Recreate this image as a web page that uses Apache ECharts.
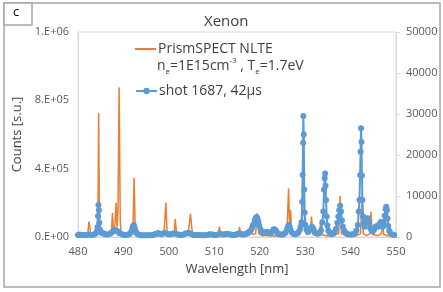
<!DOCTYPE html>
<html><head><meta charset="utf-8">
<script src="https://cdn.jsdelivr.net/npm/echarts@6/dist/echarts.min.js"></script>
<style>html,body{margin:0;padding:0;background:#fff}#c{width:443px;height:292px}</style>
</head><body><div id="c"></div>
<script>
// PrismSPECT NLTE spectrum [wavelength nm, counts] (left axis)
const prismSpect = [
[480.0,5000],[481.0,4000],[482.0,6000],[482.2,30000],[482.4,90000],[482.6,60000],[482.8,8000],[483.5,5000],
[484.2,8000],[484.4,150000],[484.55,726000],[484.7,180000],[484.85,40000],[485.0,10000],[485.5,8000],[486.5,5000],
[487.3,10000],[487.6,140000],[487.8,30000],[488.1,60000],[488.4,200000],[488.6,60000],[488.8,150000],[489.05,877000],
[489.3,100000],[489.5,15000],[490.5,6000],[491.5,8000],[492.1,40000],[492.35,347000],[492.6,40000],[492.9,8000],
[494.0,5000],[496.0,5000],[497.3,8000],[497.6,40000],[497.9,8000],[498.9,10000],[499.35,200000],[499.6,30000],
[500.5,8000],[501.2,30000],[501.4,105000],[501.7,20000],[502.5,6000],[504.3,30000],[504.75,135000],[505.2,15000],
[506.0,6000],[508.0,5000],[510.8,15000],[511.15,60000],[511.4,10000],[512.4,8000],[512.65,31000],[512.9,8000],
[514.0,5000],[515.3,10000],[515.55,60000],[515.8,8000],[517.7,10000],[518.05,80000],[518.3,15000],[519.1,20000],
[519.45,138000],[519.8,20000],[520.5,8000],[521.5,10000],[522.3,6000],[523.5,8000],[525.0,6000],[526.0,20000],
[526.35,285000],[526.6,60000],[526.8,158000],[527.0,15000],[528.0,8000],[529.3,40000],[529.65,396000],[529.9,60000],
[530.3,15000],[531.1,20000],[531.4,119000],[531.7,15000],[532.5,8000],[533.2,20000],[533.4,90000],[533.6,15000],
[535.0,6000],[537.4,20000],[537.7,240000],[538.0,20000],[539.0,8000],[541.0,6000],[542.2,20000],[542.5,240000],
[542.8,20000],[543.5,8000],[544.3,20000],[544.5,148000],[544.8,15000],[546.0,8000],[546.8,20000],[547.0,90000],
[547.3,15000],[548.5,5000]
];
// shot 1687, 42µs measured spectrum [wavelength nm, counts] (right axis)
const shot1687 = [
[480.0,500],[480.4,600],[480.8,500],[481.2,400],[481.6,500],[482.0,400],[482.4,600],[482.8,500],[483.2,500],[483.6,700],
[484.0,1000],[484.2,1500],[484.3,2400],[484.4,5100],[484.5,7800],[484.6,6500],[484.7,3500],[484.8,1800],[485.0,1200],
[485.3,1000],[485.6,900],[486.0,700],[486.4,600],[486.8,700],[487.2,900],[487.6,1300],[487.9,1600],[488.2,1700],
[488.5,1600],[488.8,1300],[489.1,1000],[489.4,800],[489.8,600],[490.2,500],[490.6,500],[491.0,600],[491.4,800],
[491.7,1200],[491.9,1900],[492.1,2600],[492.3,2900],[492.5,2200],[492.7,1400],[492.9,900],[493.2,700],[493.6,500],
[494.0,400],[494.4,400],[494.8,400],[495.2,400],[495.6,400],[496.0,450],[496.4,500],[496.8,600],[497.2,800],[497.6,900],
[498.0,800],[498.4,700],[498.8,900],[499.2,1000],[499.6,800],[500.0,700],[500.4,700],[500.8,800],[501.2,900],[501.6,800],
[502.0,600],[502.4,500],[502.8,500],[503.2,600],[503.6,800],[504.0,1000],[504.4,1000],[504.8,800],[505.2,600],[505.6,500],
[506.0,500],[506.4,500],[506.8,500],[507.2,400],[507.6,400],[508.0,400],[508.4,500],[508.8,600],[509.2,700],[509.6,600],
[510.0,500],[510.4,500],[510.8,600],[511.2,800],[511.6,700],[512.0,600],[512.4,700],[512.8,800],[513.2,700],[513.6,600],
[514.0,500],[514.4,500],[514.8,600],[515.2,800],[515.6,900],[516.0,700],[516.4,600],[516.8,700],[517.2,900],[517.6,1200],
[518.0,1600],[518.3,2200],[518.6,3000],[518.9,4000],[519.1,4600],[519.3,4900],[519.5,4600],[519.7,3800],[519.9,2800],
[520.2,1800],[520.5,1200],[520.8,1000],[521.1,1100],[521.4,1300],[521.7,1200],[522.0,900],[522.4,900],[522.7,1300],
[523.0,1800],[523.3,1900],[523.6,1500],[523.9,1000],[524.2,700],[524.6,600],[525.0,600],[525.4,800],[525.7,1100],
[526.0,1800],[526.2,2500],[526.4,2900],[526.6,2500],[526.8,1700],[527.1,1100],[527.4,800],[527.8,700],[528.2,800],
[528.5,1100],[528.8,1700],[529.0,2500],[529.2,3600],[529.35,8600],[529.45,15100],[529.55,23000],[529.6,29500],
[529.7,25000],[529.8,11600],[529.9,6000],[530.05,3000],[530.3,1700],[530.6,1200],[530.9,1500],[531.2,2200],[531.5,2500],
[531.8,2000],[532.1,1300],[532.4,900],[532.8,800],[533.2,1000],[533.5,1600],[533.8,3600],[534.0,6200],[534.15,11500],
[534.3,14300],[534.4,15500],[534.5,12500],[534.6,9000],[534.75,5000],[534.9,2800],[535.1,1600],[535.4,1000],[535.8,700],
[536.2,800],[536.5,1200],[536.8,2000],[537.1,3500],[537.3,5000],[537.5,6500],[537.7,7600],[537.9,6200],[538.1,4000],
[538.3,2500],[538.6,1500],[539.0,900],[539.4,700],[539.8,600],[540.2,600],[540.6,700],[541.0,1000],[541.3,1600],
[541.6,2900],[541.8,6200],[541.95,9000],[542.1,15100],[542.2,20800],[542.3,26500],[542.4,23200],[542.5,15000],
[542.6,9000],[542.75,5000],[542.9,3200],[543.1,2500],[543.4,3500],[543.6,4500],[543.8,4600],[544.0,3500],[544.3,2200],
[544.6,1600],[544.9,1400],[545.2,1800],[545.5,2500],[545.8,2700],[546.1,2500],[546.4,3200],[546.7,3700],[546.9,3000],
[547.1,2500],[547.3,3500],[547.5,5200],[547.7,6800],[547.85,7400],[548.0,6500],[548.15,4500],[548.3,2700],[548.5,1500],
[548.8,900],[549.1,600],[549.6,500]
];
const leftTickLabels = ['0.E+00','4.E+05','8.E+05','1.E+06'];
const rightTickLabels = ['0','10000','20000','30000','40000','50000'];
const xTickLabels = ['480','490','500','510','520','530','540','550'];
const seriesNames = ['PrismSPECT NLTE','shot 1687, 42µs'];

const chart = echarts.init(document.getElementById('c'), null, {renderer:'canvas'});
const FONT = 'Open Sans';
const lab = {color:'#595959', fontSize:11, fontFamily:FONT};
const legText = {fontFamily:FONT, fontSize:14, color:'#404040', padding:[0,0,0,-3]};
chart.setOption({
  animation:false,
  title:{text:'Xenon', top:9, left:199, textStyle:{fontFamily:FONT, fontSize:15, fontWeight:'normal', color:'#404040'}},
  grid:{left:78, right:47, top:32, bottom:55, show:true, borderColor:'#d9d9d9', borderWidth:1},
  legend:[
    {orient:'vertical', left:135, top:42, padding:0, itemWidth:21, itemHeight:2, icon:'rect',
     textStyle:legText, data:[seriesNames[0]]},
    {orient:'vertical', left:135, top:84, padding:0, itemWidth:21, itemHeight:8,
     textStyle:legText, data:[seriesNames[1]]}
  ],
  xAxis:{type:'value', min:480, max:550, interval:10,
    name:'Wavelength [nm]', nameLocation:'middle', nameGap:26,
    nameTextStyle:{fontFamily:FONT, fontSize:13, color:'#404040'},
    axisLine:{lineStyle:{color:'#d9d9d9'}}, axisTick:{show:false}, splitLine:{show:false},
    axisLabel:Object.assign({margin:9, formatter:v=>xTickLabels[Math.round((v-480)/10)]}, lab)},
  yAxis:[
    {type:'value', min:0, max:1200000, interval:400000,
     name:'Counts [s.u.]', nameLocation:'middle', nameGap:50, nameRotate:90,
     nameTextStyle:{fontFamily:FONT, fontSize:13, color:'#404040'},
     axisLine:{show:true, lineStyle:{color:'#d9d9d9'}}, axisTick:{show:false}, splitLine:{show:false},
     axisLabel:Object.assign({margin:9, formatter:v=>leftTickLabels[Math.round(v/400000)]}, lab)},
    {type:'value', min:0, max:50000, interval:10000, position:'right',
     axisLine:{show:true, lineStyle:{color:'#d9d9d9'}}, axisTick:{show:true, length:4, lineStyle:{color:'#d9d9d9'}},
     splitLine:{show:false},
     axisLabel:Object.assign({margin:10, formatter:v=>rightTickLabels[Math.round(v/10000)]}, lab)}
  ],
  series:[
    {name:seriesNames[0], type:'line', yAxisIndex:0, data:prismSpect, showSymbol:false, symbol:'none',
     lineStyle:{color:'#ed7d31', width:1.5}, itemStyle:{color:'#ed7d31'}, z:2},
    {name:seriesNames[1], type:'line', yAxisIndex:1, data:shot1687, symbol:'circle', symbolSize:6, showSymbol:true,
     lineStyle:{color:'#5b9bd5', width:2}, itemStyle:{color:'#5b9bd5'}, z:3}
  ],
  graphic:[
    {type:'rect', shape:{x:4, y:3, width:436, height:284}, style:{fill:'none', stroke:'#a6a6a6', lineWidth:1.5}, silent:true},
    {type:'rect', shape:{x:4, y:3, width:28, height:22}, style:{fill:'#fff', stroke:'#a6a6a6', lineWidth:1.5}, silent:true},
    {type:'text', left:13, top:6, style:{text:'c', font:'13px "Open Sans"', fill:'#000'}},
    {type:'text', left:157, top:57, style:{
      text:'n{sub|e}=1E15cm{sup|-3} , T{sub|e}=1.7eV',
      font:'14px "Open Sans"', fill:'#404040', lineHeight:19,
      rich:{sub:{fontSize:8, fontFamily:FONT, fill:'#404040', verticalAlign:'bottom', lineHeight:19, padding:[6,0,0,0]},
            sup:{fontSize:8, fontFamily:FONT, fill:'#404040', verticalAlign:'top', lineHeight:19, padding:[0,0,7,0]}}}}
  ]
});
</script></body></html>
